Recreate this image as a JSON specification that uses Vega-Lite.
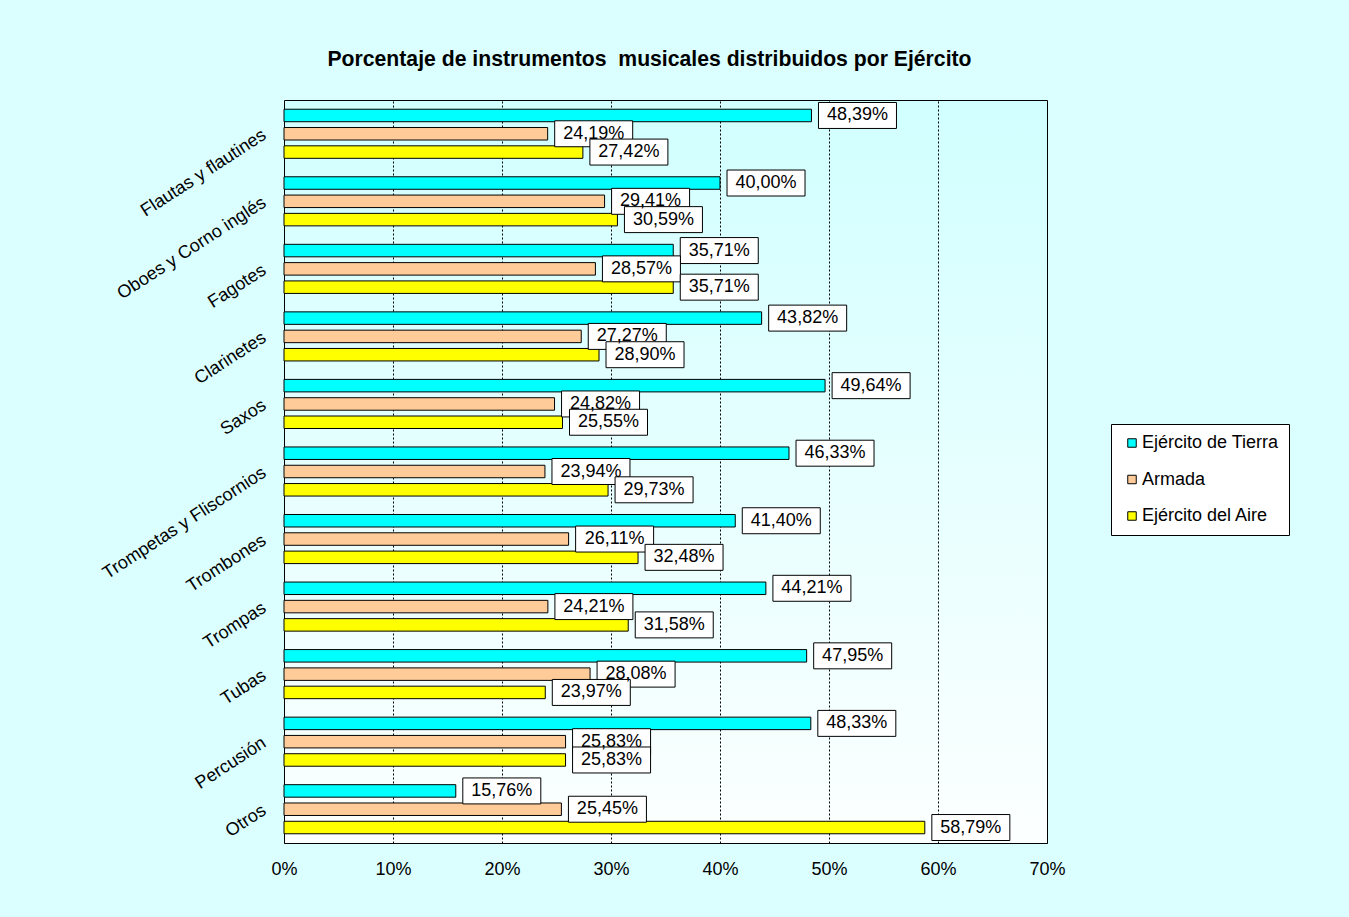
{
  "$schema": "https://vega.github.io/schema/vega-lite/v6.json",
  "width": 763,
  "height": 743,
  "autosize": {"type": "none"},
  "padding": {"left": 284, "top": 100, "right": 302, "bottom": 74},
  "background": "#DBFFFF",
  "title": {
    "text": "Porcentaje de instrumentos\u00a0 musicales distribuidos por Ejército",
    "fontSize": 21.2,
    "fontWeight": "bold",
    "font": "Liberation Sans",
    "color": "#000000",
    "anchor": "middle",
    "frame": "group",
    "baseline": "alphabetic",
    "offset": 13,
    "dx": -16
  },
  "config": {
    "font": "Liberation Sans",
    "locale": {"number": {"decimal": ",", "thousands": ".", "grouping": [3], "currency": ["", " €"]}},
    "view": {
      "stroke": "#000000",
      "strokeWidth": 1,
      "fill": {"gradient": "linear", "x1": 0, "y1": 0, "x2": 0, "y2": 1, "stops": [{"offset": 0, "color": "#D1FFFF"}, {"offset": 1, "color": "#FCFFFF"}]}
    }
  },
  "data": {
    "values": [
      {"instrumento": "Flautas y flautines", "ejercito": "Ejército de Tierra", "pct": 0.4839},
      {"instrumento": "Flautas y flautines", "ejercito": "Armada", "pct": 0.2419},
      {"instrumento": "Flautas y flautines", "ejercito": "Ejército del Aire", "pct": 0.2742},
      {"instrumento": "Oboes y Corno inglés", "ejercito": "Ejército de Tierra", "pct": 0.4000},
      {"instrumento": "Oboes y Corno inglés", "ejercito": "Armada", "pct": 0.2941},
      {"instrumento": "Oboes y Corno inglés", "ejercito": "Ejército del Aire", "pct": 0.3059},
      {"instrumento": "Fagotes", "ejercito": "Ejército de Tierra", "pct": 0.3571},
      {"instrumento": "Fagotes", "ejercito": "Armada", "pct": 0.2857},
      {"instrumento": "Fagotes", "ejercito": "Ejército del Aire", "pct": 0.3571},
      {"instrumento": "Clarinetes", "ejercito": "Ejército de Tierra", "pct": 0.4382},
      {"instrumento": "Clarinetes", "ejercito": "Armada", "pct": 0.2727},
      {"instrumento": "Clarinetes", "ejercito": "Ejército del Aire", "pct": 0.2890},
      {"instrumento": "Saxos", "ejercito": "Ejército de Tierra", "pct": 0.4964},
      {"instrumento": "Saxos", "ejercito": "Armada", "pct": 0.2482},
      {"instrumento": "Saxos", "ejercito": "Ejército del Aire", "pct": 0.2555},
      {"instrumento": "Trompetas y Fliscornios", "ejercito": "Ejército de Tierra", "pct": 0.4633},
      {"instrumento": "Trompetas y Fliscornios", "ejercito": "Armada", "pct": 0.2394},
      {"instrumento": "Trompetas y Fliscornios", "ejercito": "Ejército del Aire", "pct": 0.2973},
      {"instrumento": "Trombones", "ejercito": "Ejército de Tierra", "pct": 0.4140},
      {"instrumento": "Trombones", "ejercito": "Armada", "pct": 0.2611},
      {"instrumento": "Trombones", "ejercito": "Ejército del Aire", "pct": 0.3248},
      {"instrumento": "Trompas", "ejercito": "Ejército de Tierra", "pct": 0.4421},
      {"instrumento": "Trompas", "ejercito": "Armada", "pct": 0.2421},
      {"instrumento": "Trompas", "ejercito": "Ejército del Aire", "pct": 0.3158},
      {"instrumento": "Tubas", "ejercito": "Ejército de Tierra", "pct": 0.4795},
      {"instrumento": "Tubas", "ejercito": "Armada", "pct": 0.2808},
      {"instrumento": "Tubas", "ejercito": "Ejército del Aire", "pct": 0.2397},
      {"instrumento": "Percusión", "ejercito": "Ejército de Tierra", "pct": 0.4833},
      {"instrumento": "Percusión", "ejercito": "Armada", "pct": 0.2583},
      {"instrumento": "Percusión", "ejercito": "Ejército del Aire", "pct": 0.2583},
      {"instrumento": "Otros", "ejercito": "Ejército de Tierra", "pct": 0.1576},
      {"instrumento": "Otros", "ejercito": "Armada", "pct": 0.2545},
      {"instrumento": "Otros", "ejercito": "Ejército del Aire", "pct": 0.5879}
    ]
  },
  "encoding": {
    "y": {
      "field": "instrumento",
      "type": "nominal",
      "sort": ["Flautas y flautines", "Oboes y Corno inglés", "Fagotes", "Clarinetes", "Saxos", "Trompetas y Fliscornios", "Trombones", "Trompas", "Tubas", "Percusión", "Otros"],
      "scale": {"paddingInner": 0, "paddingOuter": 0},
      "axis": {
        "title": null,
        "ticks": false,
        "domain": false,
        "grid": false,
        "labelFontSize": 18,
        "labelColor": "#000000",
        "labelAngle": -33,
        "labelAlign": "right",
        "labelBaseline": "middle",
        "labelPadding": 20,
        "labelLimit": 400
      }
    },
    "yOffset": {
      "field": "ejercito",
      "type": "nominal",
      "sort": ["Ejército de Tierra", "Armada", "Ejército del Aire"],
      "scale": {"paddingInner": 0.317, "paddingOuter": 0.504}
    },
    "x": {
      "field": "pct",
      "type": "quantitative",
      "scale": {"domain": [0, 0.7], "nice": false},
      "axis": {
        "title": null,
        "format": ".0%",
        "values": [0, 0.1, 0.2, 0.3, 0.4, 0.5, 0.6, 0.7],
        "ticks": false,
        "domain": false,
        "labelFontSize": 18,
        "labelColor": "#000000",
        "labelPadding": 17,
        "labelFlush": false,
        "grid": true,
        "gridDash": [2, 2],
        "gridColor": "#000000",
        "gridWidth": 1,
        "gridOpacity": 1
      }
    }
  },
  "layer": [
    {
      "mark": {"type": "bar", "stroke": "#000000", "strokeWidth": 1},
      "encoding": {
        "color": {
          "field": "ejercito",
          "type": "nominal",
          "scale": {"domain": ["Ejército de Tierra", "Armada", "Ejército del Aire"], "range": ["#00FFFF", "#FFCC99", "#FFFF00"]},
          "legend": {
            "title": null,
            "orient": "none",
            "legendX": 827,
            "legendY": 324,
            "fillColor": "#FFFFFF",
            "strokeColor": "#000000",
            "padding": 10,
            "symbolType": "square",
            "symbolSize": 72,
            "symbolStrokeColor": "#000000",
            "symbolStrokeWidth": 1,
            "symbolOffset": 2,
            "labelFontSize": 18,
            "labelColor": "#000000",
            "labelOffset": 1,
            "rowPadding": 18.5,
            "labelLimit": 300
          }
        }
      }
    },
    {
      "mark": {
        "type": "point",
        "shape": "M0.18,-0.333L2.18,-0.333L2.18,0.333L0.18,0.333Z",
        "size": 6084,
        "filled": true,
        "fill": "#FFFFFF",
        "stroke": "#000000",
        "strokeWidth": 1,
        "opacity": 1
      }
    },
    {
      "mark": {"type": "text", "dx": 46, "align": "center", "baseline": "middle", "fontSize": 18, "color": "#000000"},
      "encoding": {"text": {"field": "pct", "type": "quantitative", "format": ".2%"}}
    }
  ]
}
